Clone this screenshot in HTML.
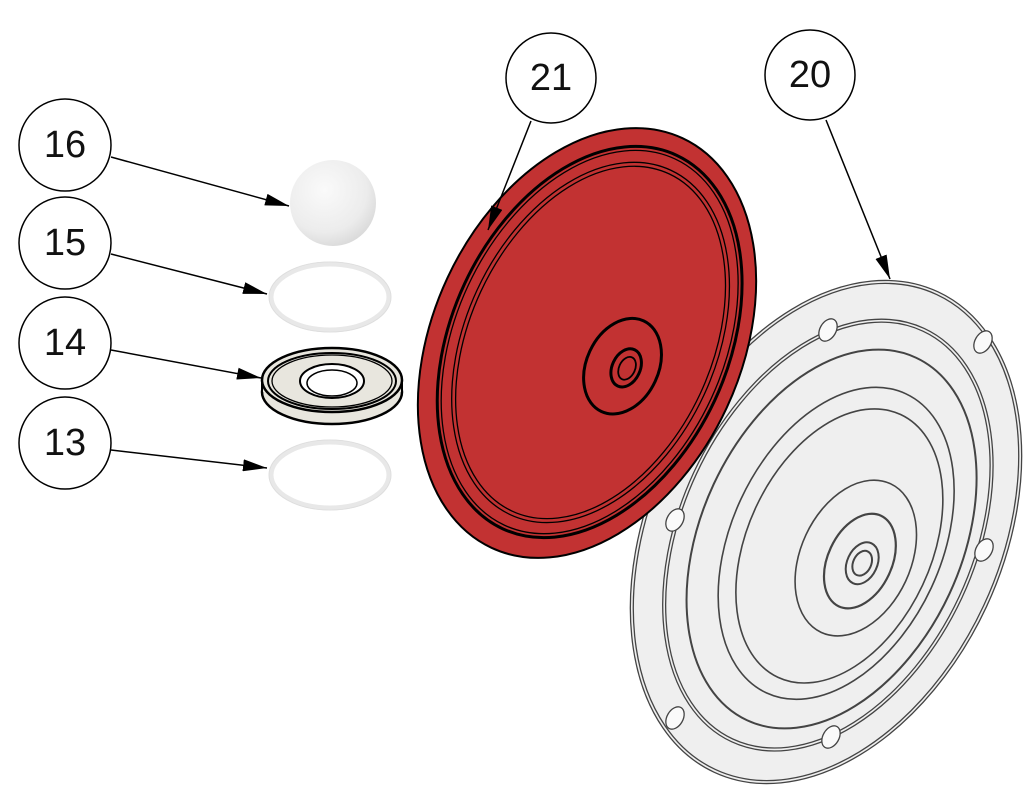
<!DOCTYPE html>
<html><head><meta charset="utf-8"><style>
html,body{margin:0;padding:0;background:#fff;overflow:hidden;width:1024px;height:786px}
svg{display:block}
text{font-family:"Liberation Sans",sans-serif;font-size:38px;fill:#111;text-anchor:middle;dominant-baseline:central}
</style></head><body>
<svg width="1024" height="786" viewBox="0 0 1024 786" xmlns="http://www.w3.org/2000/svg">
<defs>
<marker id="ah2" viewBox="0 0 10 10" refX="10" refY="5" markerWidth="24" markerHeight="12" markerUnits="userSpaceOnUse" orient="auto" preserveAspectRatio="none"><path d="M0,0 L10,5 L0,10 Z" fill="#000"/></marker>
<radialGradient id="ball" cx="0.4" cy="0.35" r="0.7"><stop offset="0" stop-color="#fafafa"/><stop offset="0.7" stop-color="#ececec"/><stop offset="1" stop-color="#d8d8d8"/></radialGradient>
</defs>

<g transform="translate(826,532) rotate(25)" fill="none" stroke="#444" stroke-width="1.3">
<ellipse rx="177" ry="265" fill="#efefef"/>
<ellipse rx="174" ry="262"/>
<ellipse cx="3" cy="2" rx="148" ry="228"/>
<ellipse cx="3" cy="2" rx="145" ry="225"/>
<ellipse cx="8" cy="4" rx="130" ry="200" stroke-width="2"/>
<ellipse cx="14" cy="6" rx="105" ry="165" stroke-width="1.6"/>
<ellipse cx="18" cy="7" rx="92" ry="145" stroke-width="1.6"/>
<ellipse cx="38" cy="11" rx="55" ry="82" stroke-width="1.6"/>
<ellipse cx="43" cy="12" rx="32" ry="50" stroke-width="2.2"/>
<ellipse cx="46" cy="13" rx="15" ry="22" stroke-width="2"/>
<ellipse cx="46" cy="13" rx="9" ry="13" stroke-width="2"/>
</g>
<g fill="#fafafa" stroke="#444" stroke-width="1.3">
<ellipse cx="828" cy="330" rx="8" ry="12" transform="rotate(30 828 330)"/>
<ellipse cx="983" cy="342" rx="8" ry="12" transform="rotate(30 983 342)"/>
<ellipse cx="675" cy="520" rx="8" ry="12" transform="rotate(30 675 520)"/>
<ellipse cx="984" cy="550" rx="8" ry="12" transform="rotate(30 984 550)"/>
<ellipse cx="675" cy="718" rx="8" ry="12" transform="rotate(30 675 718)"/>
<ellipse cx="831" cy="737" rx="8" ry="12" transform="rotate(30 831 737)"/>
</g>

<g transform="translate(587,343) rotate(25)" fill="none" stroke="#000">
<ellipse rx="154" ry="226" fill="#c23232" stroke-width="2"/>
<ellipse cx="2" cy="-2" rx="138" ry="206" stroke-width="3"/>
<ellipse cx="2" cy="-2" rx="134" ry="202" stroke-width="1.3"/>
<ellipse cx="3" cy="-2" rx="125" ry="190" stroke-width="1.3"/>
<ellipse cx="3" cy="-2" rx="121" ry="186" stroke-width="1.3"/>
<ellipse cx="42" cy="6" rx="36" ry="50" stroke-width="3"/>
<ellipse cx="46" cy="6" rx="14" ry="20" stroke-width="3"/>
<ellipse cx="47" cy="6" rx="8" ry="12" stroke-width="1.8"/>
</g>

<circle cx="333" cy="203" r="43" fill="url(#ball)"/>
<ellipse cx="330" cy="297" rx="59" ry="33" fill="none" stroke="#e8e8e8" stroke-width="5"/>
<ellipse cx="330" cy="297" rx="61" ry="35" fill="none" stroke="#ddd" stroke-width="0.8"/>
<ellipse cx="330" cy="475" rx="59" ry="33" fill="none" stroke="#e8e8e8" stroke-width="5"/>
<ellipse cx="330" cy="475" rx="61" ry="35" fill="none" stroke="#ddd" stroke-width="0.8"/>
<g stroke="#000" fill="none">
<ellipse cx="332" cy="392" rx="70" ry="32" fill="#e8e6de" stroke-width="2.5"/>
<rect x="262" y="380" width="140" height="12" fill="#e8e6de" stroke="none"/>
<line x1="262" y1="380" x2="262" y2="392" stroke-width="2"/>
<line x1="402" y1="380" x2="402" y2="392" stroke-width="2"/>
<ellipse cx="332" cy="380" rx="70" ry="32" fill="#e8e6de" stroke-width="2.5"/>
<ellipse cx="332" cy="381" rx="64" ry="28" stroke-width="2"/>
<ellipse cx="332" cy="381" rx="60" ry="26" stroke-width="1.3"/>
<ellipse cx="332" cy="381" rx="32" ry="17" fill="#fff" stroke-width="2"/>
<ellipse cx="332" cy="383" rx="25" ry="13" stroke-width="1.5"/>
</g>

<g fill="#fff" stroke="#000" stroke-width="1.5">
<circle cx="65" cy="145" r="46"/>
<circle cx="65" cy="243" r="46"/>
<circle cx="65" cy="343" r="46"/>
<circle cx="65" cy="443" r="46"/>
<circle cx="551" cy="78" r="45"/>
<circle cx="810" cy="75" r="45"/>
</g>
<text x="65" y="145">16</text>
<text x="65" y="243">15</text>
<text x="65" y="343">14</text>
<text x="65" y="443">13</text>
<text x="551" y="78">21</text>
<text x="810" y="75">20</text>

<g stroke="#000" stroke-width="1.5" marker-end="url(#ah2)">
<line x1="111" y1="157" x2="289" y2="206"/>
<line x1="111" y1="254" x2="267" y2="294"/>
<line x1="111" y1="350" x2="261" y2="378"/>
<line x1="111" y1="450" x2="267" y2="468"/>
<line x1="531" y1="121" x2="488" y2="230"/>
<line x1="826" y1="120" x2="890" y2="279"/>
</g>
</svg>
</body></html>
